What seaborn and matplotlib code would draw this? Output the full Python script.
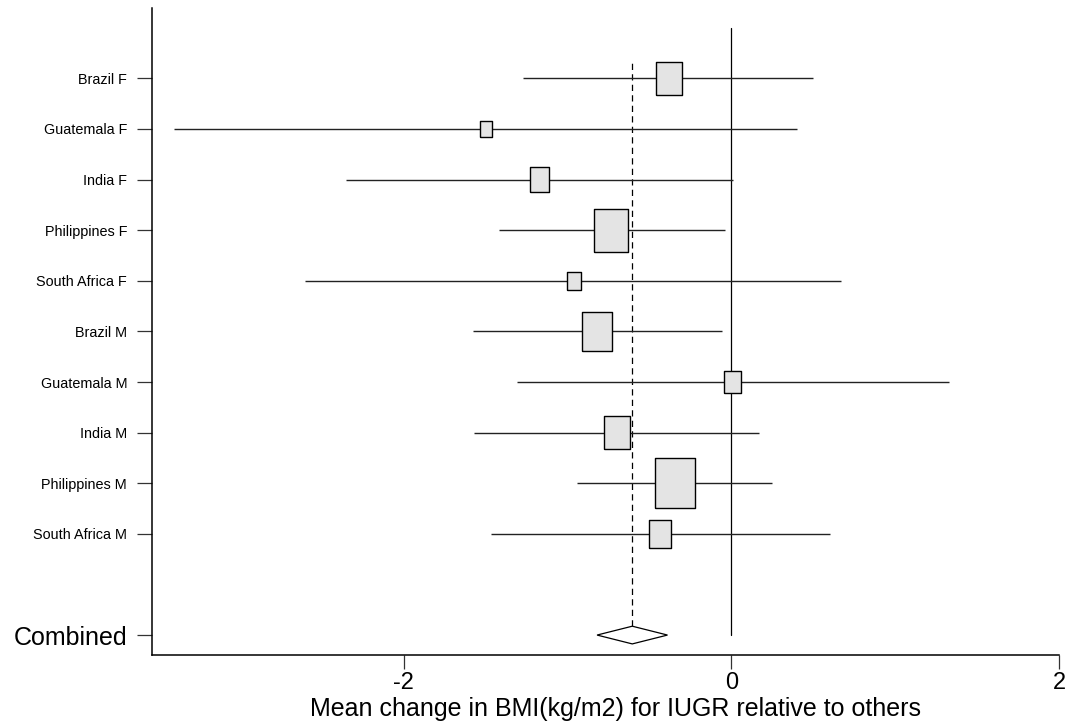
import numpy as np
import pandas as pd
import matplotlib
matplotlib.use("Agg")
import matplotlib.pyplot as plt
import seaborn as sns

# ---- data ----
studies = ["Brazil F", "Guatemala F", "India F", "Philippines F", "South Africa F",
           "Brazil M", "Guatemala M", "India M", "Philippines M", "South Africa M"]
estimate = [-0.38, -1.50, -1.17, -0.735, -0.96, -0.82, 0.005, -0.70, -0.345, -0.435]
ci_low = [-1.27, -3.40, -2.35, -1.42, -2.60, -1.58, -1.31, -1.57, -0.94, -1.47]
ci_high = [0.50, 0.40, 0.01, -0.04, 0.67, -0.06, 1.33, 0.17, 0.25, 0.605]
weight = [10.4, 2.2, 5.7, 17.5, 3.1, 14.5, 4.6, 10.6, 23.7, 7.6]
combined_label = "Combined"
combined_est = -0.605
combined_low = -0.82
combined_high = -0.39
xticks = [-2, 0, 2]
xlabel = "Mean change in BMI(kg/m2) for IUGR relative to others"

sns.set_style("ticks")
plt.rcParams["font.family"] = ["Liberation Sans", "DejaVu Sans"]
plt.rcParams["text.color"] = "black"
plt.rcParams["xtick.color"] = "black"
plt.rcParams["ytick.color"] = "black"
plt.rcParams["axes.labelcolor"] = "black"

W, H = 1073, 725
fig = plt.figure(figsize=(W / 100, H / 100), dpi=100)
ax = fig.add_axes([152.3 / W, 1 - 655.3 / H, (1059 - 152.3) / W, (655.3 - 8) / H])

n = len(studies)
ypos = np.arange(n + 1, 1, -1)  # 11 .. 2 ; combined at 0
df = pd.DataFrame({"study": studies, "est": estimate, "lo": ci_low, "hi": ci_high,
                   "w": weight, "y": ypos})

ax.set_xlim(-3.535, 2.0)
ax.set_ylim(-0.40, 12.39)

# reference lines
ax.plot([0, 0], [0, 12.0], color="black", lw=0.9, zorder=1)
ax.plot([combined_est, combined_est], [0.18, 11.38], color="black", lw=0.9,
        linestyle=(0, (5.0, 3.4)), zorder=1)

# confidence intervals
ax.hlines(df["y"], df["lo"], df["hi"], color="#222222", lw=1.0, zorder=2)

# weight boxes (rectangle marker, area proportional to weight)
rect = [(-0.394, -0.5), (0.394, -0.5), (0.394, 0.5), (-0.394, 0.5), (-0.394, -0.5)]
wmax = max(weight)
sns.scatterplot(data=df, x="est", y="y", size="w", sizes=(0, 54.5 * wmax),
                size_norm=(0, wmax), marker=rect, color="#e4e4e4",
                edgecolor="black", linewidth=1.0, legend=False, ax=ax, zorder=3)

# combined diamond
dh = 0.175
ax.fill([combined_low, combined_est, combined_high, combined_est, combined_low],
        [0, dh, 0, -dh, 0], facecolor="white", edgecolor="black", lw=0.9, zorder=3)

# axes styling
ax.set_yticks(list(ypos) + [0])
ax.set_yticklabels(studies + [combined_label])
for lab in ax.get_yticklabels():
    lab.set_fontsize(10.4)
ax.get_yticklabels()[-1].set_fontsize(18)
ax.set_xticks(xticks)
ax.set_xticklabels([str(t) for t in xticks], fontsize=17)
ax.set_xlabel(xlabel, fontsize=18, labelpad=2.5)
ax.xaxis.set_label_coords(0.5114, -0.064, transform=ax.transAxes)
ax.xaxis.label.set_va("top")
ax.set_ylabel("")
ax.tick_params(axis="y", length=10.8, width=0.9, pad=7.4, color="#333333")
ax.tick_params(axis="x", length=10, width=0.9, pad=2, color="#333333")
for s in ["top", "right"]:
    ax.spines[s].set_visible(False)
for s in ["left", "bottom"]:
    ax.spines[s].set_color("black")
    ax.spines[s].set_linewidth(1.1)

fig.savefig("out.png", dpi=100)
